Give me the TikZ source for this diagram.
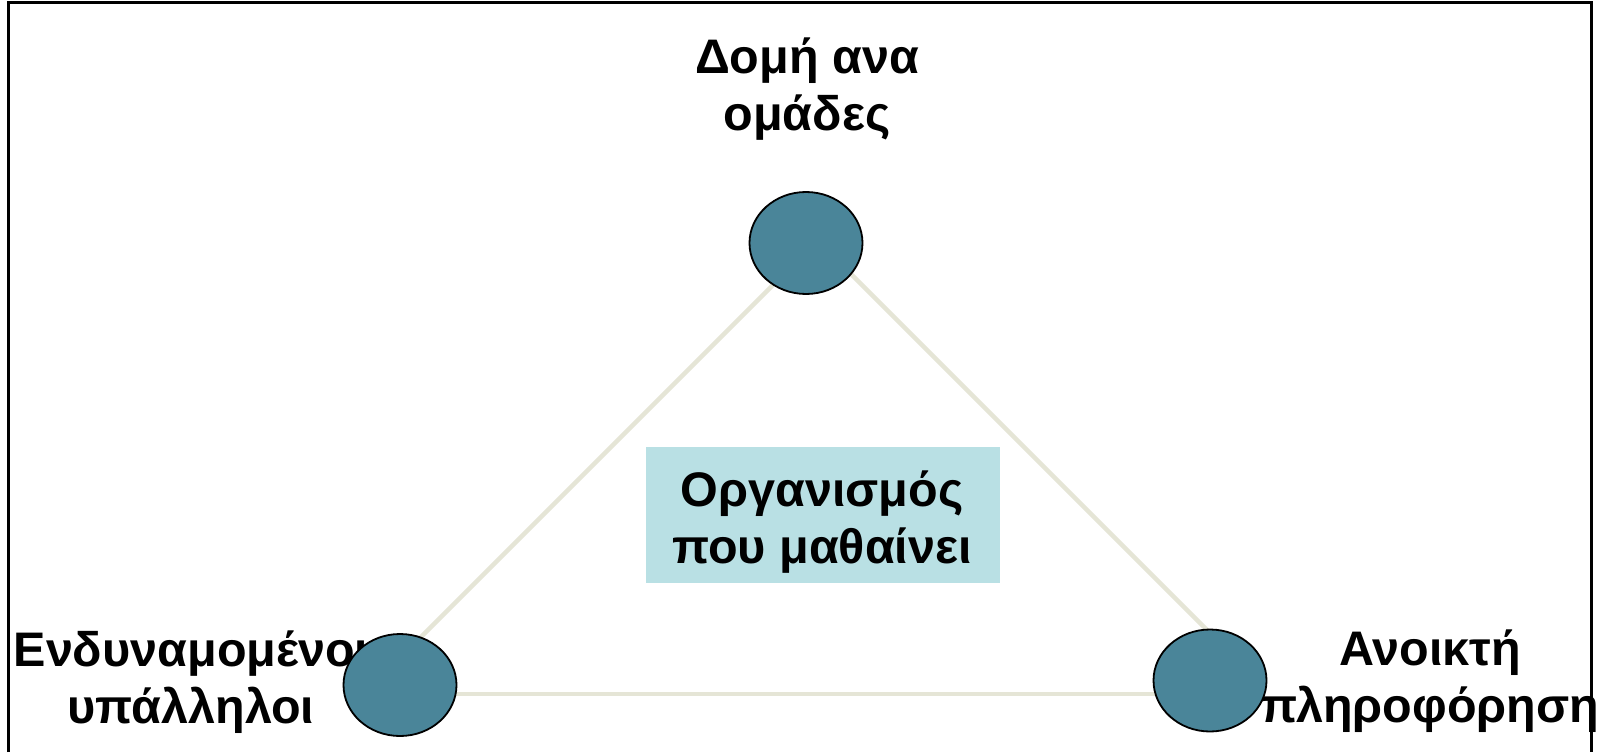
\documentclass[tikz,border=0pt]{standalone}
\usepackage{fontspec}
\setmainfont{Liberation Sans}
\usetikzlibrary{shapes.geometric}
\definecolor{linkc}{RGB}{229,229,214}
\definecolor{ballc}{RGB}{74,133,153}
\definecolor{boxc}{RGB}{185,224,228}
\begin{document}
\begin{tikzpicture}[x=1pt,y=-1pt,
  link/.style={draw=linkc,line width=4.5pt},
  ball/.style={ellipse,draw=black,line width=1.8pt,fill=ballc,minimum width=113pt,minimum height=102pt,inner sep=0pt},
  lbl/.style={font=\fontsize{48.5}{57}\selectfont\bfseries,align=center,anchor=base,inner sep=0pt,text=black},
  centrebox/.style={fill=boxc,minimum width=354pt,minimum height=136pt,inner sep=0pt}]
\useasboundingbox (0,0) rectangle (1608,752);
\fill[white] (0,0) rectangle (1608,752);
% connectors (ends hidden under the circles)
\coordinate (tl) at (798,260);
\coordinate (tr) at (837,260);
\coordinate (ll) at (398,660);
\coordinate (rr) at (1237,660);
\coordinate (bl) at (380,694);
\coordinate (br) at (1230,694);
\draw[link] (tl) -- (ll);
\draw[link] (tr) -- (rr);
\draw[link] (bl) -- (br);
% centre box
\node[centrebox] (org) at (823,515) {};
\node[lbl] (orgt) at (822,563) {Οργανισμός\\που μαθαίνει};
% labels
\node[lbl] (topt) at (807,130) {Δομή ανα\\ομάδες};
\node[lbl] (leftt) at (191,723) {Ενδυναμομένοι\\υπάλληλοι};
\node[lbl] (rightt) at (1430,722) {Ανοικτή\\πληροφόρηση};
% circles
\node[ball] (topc) at (806,243) {};
\node[ball] (leftc) at (400,685) {};
\node[ball] (rightc) at (1210,680.5) {};
% frame
\coordinate (f1) at (8,752);
\coordinate (f2) at (8,3);
\coordinate (f3) at (1591,3);
\coordinate (f4) at (1591,752);
\draw[black,line width=3pt] (f1) -- (f2) -- (f3) -- (f4);
\end{tikzpicture}
\end{document}
